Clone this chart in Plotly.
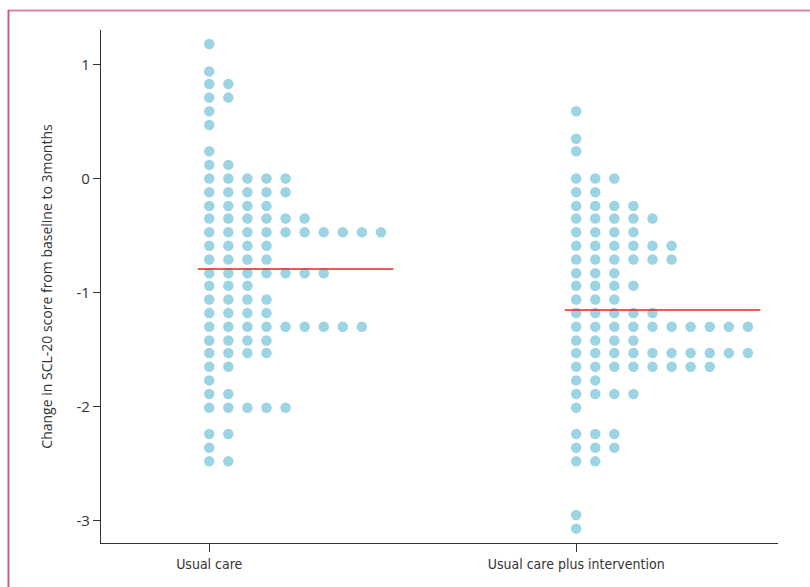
import plotly.graph_objects as go

# Binned change scores (bin centre) and number of patients per bin
uc_levels = [1.18, 0.94, 0.83, 0.71, 0.59, 0.47, 0.24, 0.12,
             0.00, -0.12, -0.24, -0.35, -0.47, -0.59, -0.71, -0.83, -0.94, -1.06,
             -1.18, -1.30, -1.42, -1.53, -1.65, -1.77, -1.89, -2.01, -2.24, -2.36, -2.48]
uc_counts = [1, 1, 2, 2, 1, 1, 1, 2,
             5, 5, 4, 6, 10, 4, 4, 7, 3, 4,
             4, 9, 4, 4, 2, 1, 2, 5, 2, 1, 2]

uci_levels = [0.59, 0.35, 0.24,
              0.00, -0.12, -0.24, -0.35, -0.47, -0.59, -0.71, -0.83, -0.94, -1.06,
              -1.18, -1.30, -1.42, -1.53, -1.65, -1.77, -1.89, -2.01, -2.24, -2.36, -2.48,
              -2.95, -3.07]
uci_counts = [1, 1, 1,
              3, 2, 4, 5, 4, 6, 6, 3, 4, 3,
              5, 10, 4, 10, 8, 2, 4, 1, 3, 3, 2,
              1, 1]

groups = ["Usual care", "Usual care plus intervention"]
y_ticks = [1, 0, -1, -2, -3]
y_tick_labels = ["1", "0", "-1", "-2", "-3"]

DOT = "#9dd4e4"
STEP = 0.052  # horizontal spacing between stacked dots (axis units)

fig = go.Figure()

for gi, (levels, counts) in enumerate([(uc_levels, uc_counts), (uci_levels, uci_counts)]):
    xs, ys = [], []
    for v, n in zip(levels, counts):
        for j in range(n):
            xs.append(gi + j * STEP)
            ys.append(v)
    fig.add_trace(go.Scatter(
        x=xs, y=ys, mode="markers",
        marker=dict(size=10.5, color=DOT, line=dict(width=0)),
        hoverinfo="skip", showlegend=False,
    ))
    total = sum(counts)
    mean = sum(v * n for v, n in zip(levels, counts)) / total
    fig.add_trace(go.Scatter(
        x=[gi - 0.031, gi + 0.502], y=[mean, mean], mode="lines",
        line=dict(color="#e8231c", width=1.5),
        hoverinfo="skip", showlegend=False,
    ))

# pink frame along the top and left edges
L, R, T, B = 101, 778, 30, 543
def px(xp):
    return (xp - L) / (R - L)
def py(yp):
    return (B - yp) / (B - T)

fig.add_shape(type="line", xref="paper", yref="paper",
              x0=px(8), x1=px(812), y0=py(10.5), y1=py(10.5),
              line=dict(color="#e0859f", width=2))
fig.add_shape(type="line", xref="paper", yref="paper",
              x0=px(8.5), x1=px(8.5), y0=py(10), y1=py(590),
              line=dict(color="#d65a80", width=2))

tick_font = dict(family="DejaVu Sans Condensed, sans-serif", size=14, color="#333333")

fig.update_layout(
    width=810, height=587,
    margin=dict(l=L, r=810 - R, t=T, b=587 - B),
    paper_bgcolor="white", plot_bgcolor="white",
    xaxis=dict(
        range=[-0.295, 1.550], showgrid=False, zeroline=False,
        tickmode="array", tickvals=[0, 1], ticktext=groups,
        ticks="outside", ticklen=8, tickwidth=1, tickcolor="#333333",
        showline=True, linecolor="#333333", linewidth=1.2,
        tickfont=tick_font,
    ),
    yaxis=dict(
        range=[-3.196, 1.303], showgrid=False, zeroline=False,
        tickmode="array", tickvals=y_ticks, ticktext=y_tick_labels,
        ticks="outside", ticklen=7, tickwidth=1, tickcolor="#333333",
        showline=True, linecolor="#333333", linewidth=1.2,
        tickfont=dict(family="Open Sans, sans-serif", size=15, color="#333333"),
        title=dict(text="Change in SCL-20 score from baseline to 3months",
                   font=dict(family="Open Sans, sans-serif", size=14, color="#333333"),
                   standoff=20),
    ),
)

fig.write_html("out.html")
